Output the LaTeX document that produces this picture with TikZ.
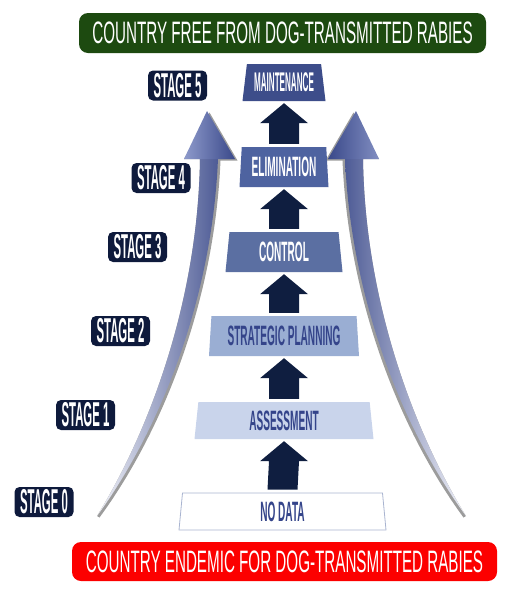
\documentclass[tikz,border=0pt]{standalone}
\usepackage{fontspec}
\usetikzlibrary{shapes.geometric,calc}
\newfontfamily\banfont[FakeStretch=0.49]{Liberation Sans}
\newfontfamily\trapfont[FakeStretch=0.36]{Liberation Sans}
\newfontfamily\maintfont[FakeStretch=0.30]{Liberation Sans}
\newfontfamily\stagefont[FakeStretch=0.33]{Liberation Sans}
\definecolor{navy}{HTML}{0E1A3C}
\definecolor{blk}{HTML}{0F1E40}
\definecolor{ban green}{HTML}{1D4A10}
\definecolor{ban red}{HTML}{FC0000}
\definecolor{c5}{HTML}{3D4D8A}
\definecolor{c4}{HTML}{4E63A0}
\definecolor{c3}{HTML}{5B6FA2}
\definecolor{c2}{HTML}{9AAED3}
\definecolor{c1}{HTML}{C9D4EB}
\definecolor{c0border}{HTML}{A9B4D0}
\definecolor{dtext}{HTML}{34448A}
\definecolor{arrdark}{HTML}{3A498A}
\definecolor{arrmid}{HTML}{8E9ACB}
\definecolor{arrlight}{HTML}{F2F3F9}
\definecolor{shadowgrey}{HTML}{9C9C9C}
\newcommand\blkarrow[2]{% #1 lower node, #2 upper node
  \fill[blk] ($(#2.south)+(0,2)$) -- ($(#2.south)+(24,22)$) -- ($(#2.south)+(15,22)$)
    -- ($(#1.north)+(15,-3)$) -- ($(#1.north)+(-15,-3)$) -- ($(#2.south)+(-15,22)$)
    -- ($(#2.south)+(-24,22)$) -- cycle;}
\tikzset{
  stagebox/.style={fill=navy, rounded corners=5pt, text=white, minimum width=59pt,
    minimum height=30pt, inner sep=0pt, font=\stagefont\bfseries\fontsize{34.5}{34.5}\selectfont},
  banner/.style={rounded corners=9pt, text=white, inner sep=0pt, minimum height=40pt,
    font=\banfont\fontsize{31}{31}\selectfont},
  trap/.style={trapezium, trapezium stretches body, inner sep=0pt,
    trapezium left angle=#1, trapezium right angle=#1,
    font=\trapfont\bfseries\fontsize{28}{28}\selectfont},
}
\begin{document}
\begin{tikzpicture}[x=1pt,y=-1pt]
\useasboundingbox (0,0) rectangle (513,595);
% big curved arrows: shadows
\fill[shadowgrey] ([shift={(2.5,1.5)}]207,111) -- ([shift={(2.5,1.5)}]235,159) -- ([shift={(2.5,1.5)}]218,159)
  .. controls ([shift={(2.5,1.5)}]212,300) and ([shift={(2.5,1.5)}]160,430) .. ([shift={(2.5,1.5)}]97,516)
  -- (97,516) .. controls (150,430) and (198,300) .. (200,159) -- (184,159) -- cycle;
\fill[shadowgrey] ([shift={(-2.5,1.5)}]356,111) -- ([shift={(-2.5,1.5)}]328,159) -- ([shift={(-2.5,1.5)}]345,159)
  .. controls ([shift={(-2.5,1.5)}]351,300) and ([shift={(-2.5,1.5)}]403,430) .. ([shift={(-2.5,1.5)}]466,516)
  -- (466,516) .. controls (413,430) and (365,300) .. (363,159) -- (379,159) -- cycle;
% left arrow
\shade[left color=arrlight, right color=arrdark!90!white] (218,158.5)
  .. controls (212,300) and (160,430) .. (97,516)
  .. controls (150,430) and (198,300) .. (200,158.5) -- cycle;
\shade[left color=arrmid, right color=arrdark] (207,111) -- (235,159) -- (184,159) -- cycle;
% right arrow
\shade[right color=arrlight, left color=arrdark!90!white] (345,158.5)
  .. controls (351,300) and (403,430) .. (466,516)
  .. controls (413,430) and (365,300) .. (363,158.5) -- cycle;
\shade[right color=arrmid!85!arrdark, left color=arrdark] (356,111) -- (379,159) -- (328,159) -- cycle;
% banners
\node[banner, fill=ban green, minimum width=407pt] (free) at (282.5,33) {COUNTRY FREE FROM DOG-TRANSMITTED RABIES};
\node[banner, fill=ban red, minimum width=425pt, minimum height=39pt] (endemic) at (284.5,561.5) {COUNTRY ENDEMIC FOR DOG-TRANSMITTED RABIES};
% stage trapezoids
\node[trap=77, fill=c5, text=white, minimum width=83pt, minimum height=37pt,
  font=\maintfont\bfseries\fontsize{27}{27}\selectfont] (maint) at (284,82.5) {MAINTENANCE};
\node[trap=83.5, fill=c4, text=white, minimum width=89pt, minimum height=40pt] (elim) at (284,167) {ELIMINATION};
\node[trap=78.7, fill=c3, text=white, minimum width=117pt, minimum height=40pt] (control) at (284,252) {CONTROL};
\node[trap=83, fill=c2, text=dtext, minimum width=150pt, minimum height=40pt] (strat) at (284,336) {STRATEGIC PLANNING};
\node[trap=79, fill=c1, text=dtext, minimum width=179pt, minimum height=37pt] (assess) at (284,420.5) {ASSESSMENT};
\node[trap=80, fill=white, draw=c0border, line width=0.8pt, text=dtext, minimum width=207pt, minimum height=37pt] (nodata) at (282.5,511.5) {NO DATA};
% block arrows
\blkarrow{elim}{maint}
\blkarrow{control}{elim}
\blkarrow{strat}{control}
\blkarrow{assess}{strat}
\blkarrow{nodata}{assess}
% stage labels
\node[stagebox] (s5) at (177.5,85.5) {STAGE 5};
\node[stagebox] (s4) at (161,178) {STAGE 4};
\node[stagebox] (s3) at (137.5,247) {STAGE 3};
\node[stagebox] (s2) at (120.5,331) {STAGE 2};
\node[stagebox] (s1) at (85.5,415) {STAGE 1};
\node[stagebox] (s0) at (44,502) {STAGE 0};
\end{tikzpicture}
\end{document}
